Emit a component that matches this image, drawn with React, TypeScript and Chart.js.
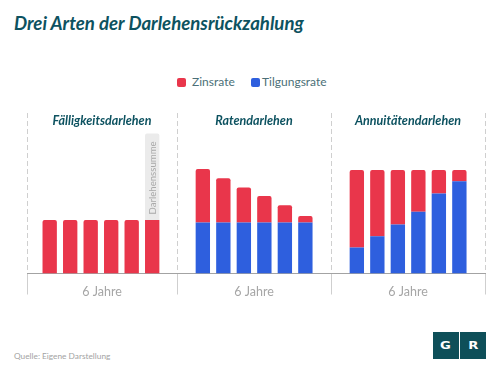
import React, { useEffect, useRef } from "react";
import { Chart, registerables } from "chart.js";

Chart.register(...registerables);

// ---- data ----
const years = [1, 2, 3, 4, 5, 6];
const panelTitles = ["Fälligkeitsdarlehen", "Ratendarlehen", "Annuitätendarlehen"];
const axisLabel = "6 Jahre";
const seriesNames = ["Zinsrate", "Tilgungsrate"];
const annotationLabel = "Darlehenssumme";

const faelligZins = [10.5, 10.5, 10.5, 10.5, 10.5, 10.5];
const faelligSumme = [null, null, null, null, null, 17];
const ratenTilgung = [10, 10, 10, 10, 10, 10];
const ratenZins = [10.5, 8.7, 6.9, 5.2, 3.4, 1.3];
const annuitaetTilgung = [5.1, 7.3, 9.6, 12.1, 15.7, 18.1];
const annuitaetZins = [15.2, 13.0, 10.7, 8.2, 4.6, 2.2];

const RED = "#e9364b";
const BLUE = "#2e5fde";
const GREY_BAR = "#ebebeb";
const TEAL = "#0d5260";
const FONT = "Lato, 'Open Sans', sans-serif";

type PanelDef = {
  title: string;
  left: number;
  width: number;
  min: number;
  max: number;
  lastLine: boolean;
  datasets: any[];
};

const panelTitlePlugin = {
  id: "panelTitle",
  afterDraw(chart: any, _args: any, opts: any) {
    const { ctx, chartArea } = chart;
    ctx.save();
    ctx.font = `italic bold 12.5px ${FONT}`;
    ctx.fillStyle = TEAL;
    ctx.textAlign = "center";
    ctx.textBaseline = "middle";
    ctx.fillText(opts.text, (chartArea.left + chartArea.right) / 2, chartArea.top + 8);
    ctx.restore();
  },
};

const annotationPlugin = {
  id: "barAnnotation",
  afterDatasetsDraw(chart: any, _args: any, opts: any) {
    if (opts.datasetIndex == null) return;
    const meta = chart.getDatasetMeta(opts.datasetIndex);
    const { ctx } = chart;
    meta.data.forEach((el: any, i: number) => {
      const v = chart.data.datasets[opts.datasetIndex].data[i];
      if (v == null) return;
      ctx.save();
      ctx.translate(el.x, el.y + 8);
      ctx.rotate(-Math.PI / 2);
      ctx.font = `9.6px ${FONT}`;
      ctx.fillStyle = "#a9a9a9";
      ctx.textAlign = "right";
      ctx.textBaseline = "middle";
      ctx.fillText(opts.text, 0, 0.5);
      ctx.restore();
    });
  },
};

function Panel({ def }: { def: PanelDef }) {
  const ref = useRef<HTMLCanvasElement | null>(null);
  useEffect(() => {
    if (!ref.current) return;
    const annIndex = def.datasets.findIndex((d) => d.isAnnotation);
    const chart = new Chart(ref.current, {
      type: "bar",
      data: { labels: years, datasets: def.datasets },
      plugins: [panelTitlePlugin, annotationPlugin],
      options: {
        animation: false,
        responsive: false,
        devicePixelRatio: 1,
        layout: { padding: { left: 0, right: def.lastLine ? 1 : 0, top: 0, bottom: 0 } },
        datasets: { bar: { categoryPercentage: 1, barPercentage: 0.7, borderRadius: 2 } },
        plugins: {
          legend: { display: false },
          tooltip: { enabled: false },
          panelTitle: { text: def.title },
          barAnnotation: { datasetIndex: annIndex >= 0 ? annIndex : null, text: annotationLabel },
        } as any,
        scales: {
          x: {
            type: "linear",
            stacked: true,
            min: def.min,
            max: def.max,
            offset: false,
            afterBuildTicks: (axis: any) => {
              axis.ticks = def.lastLine
                ? [{ value: axis.min }, { value: axis.max }]
                : [{ value: axis.min }];
            },
            grid: { offset: false, color: "#cfcfcf", lineWidth: 1, tickLength: 21, drawOnChartArea: true },
            border: { display: true, color: "#a3a3a3", width: 1, dash: [5, 3] },
            ticks: { display: false },
            title: {
              display: true,
              text: axisLabel,
              color: "#a6a6a6",
              font: { family: FONT, size: 12.5, lineHeight: 1.2 },
              padding: { top: -10.5, bottom: 0 },
            },
          } as any,
          y: { display: false, stacked: true, min: 0, max: 31.5 },
        },
      },
    });
    return () => chart.destroy();
  }, [def]);
  return (
    <canvas
      ref={ref}
      width={def.width + (def.lastLine ? 1 : 0)}
      height={186}
      style={{ position: "absolute", left: def.left, top: 113 }}
    />
  );
}

const panels: PanelDef[] = [
  {
    title: panelTitles[0],
    left: 27,
    width: 150,
    min: -0.107,
    max: 7.21,
    lastLine: false,
    datasets: [
      { label: seriesNames[0], data: faelligZins, backgroundColor: RED },
      { label: annotationLabel, data: faelligSumme, backgroundColor: GREY_BAR, isAnnotation: true },
    ],
  },
  {
    title: panelTitles[1],
    left: 177,
    width: 154,
    min: -0.26,
    max: 7.25,
    lastLine: false,
    datasets: [
      { label: seriesNames[1], data: ratenTilgung, backgroundColor: BLUE },
      { label: seriesNames[0], data: ratenZins, backgroundColor: RED },
    ],
  },
  {
    title: panelTitles[2],
    left: 331,
    width: 154,
    min: -0.26,
    max: 7.25,
    lastLine: true,
    datasets: [
      { label: seriesNames[1], data: annuitaetTilgung, backgroundColor: BLUE },
      { label: seriesNames[0], data: annuitaetZins, backgroundColor: RED },
    ],
  },
];

const logoBox: React.CSSProperties = {
  position: "absolute",
  top: 332,
  width: 26,
  height: 27,
  background: "#0e4f59",
  color: "#fff",
  fontFamily: "'DejaVu Sans', sans-serif",
  fontWeight: 700,
  fontSize: 11,
  lineHeight: "27px",
  textAlign: "center",
};

const logoLetter: React.CSSProperties = {
  display: "inline-block",
  transform: "scaleX(1.2)",
};

export default function App() {
  return (
    <div
      style={{
        position: "fixed",
        left: 0,
        top: 0,
        width: 500,
        height: 374,
        background: "#fff",
        overflow: "hidden",
        fontFamily: FONT,
      }}
    >
      <div
        style={{
          position: "absolute",
          left: 14,
          top: 14,
          fontSize: 18.6,
          lineHeight: "18px",
          fontWeight: 700,
          fontStyle: "italic",
          color: TEAL,
          whiteSpace: "nowrap",
        }}
      >
        Drei Arten der Darlehensrückzahlung
      </div>

      {/* legend */}
      <div style={{ position: "absolute", left: 177, top: 78, width: 9, height: 9, borderRadius: 2, background: RED }} />
      <div style={{ position: "absolute", left: 192, top: 75, fontSize: 12, lineHeight: "14px", color: "#4b6f77" }}>
        {seriesNames[0]}
      </div>
      <div style={{ position: "absolute", left: 251, top: 78, width: 9, height: 9, borderRadius: 2, background: BLUE }} />
      <div style={{ position: "absolute", left: 262, top: 75, fontSize: 12, lineHeight: "14px", color: "#4b6f77" }}>
        {seriesNames[1]}
      </div>

      {panels.map((p, i) => (
        <Panel key={i} def={p} />
      ))}

      <div
        style={{
          position: "absolute",
          left: 14,
          top: 351,
          fontSize: 8.3,
          lineHeight: "10px",
          color: "#a3a3a3",
          whiteSpace: "nowrap",
        }}
      >
        Quelle: Eigene Darstellung
      </div>

      {/* logo */}
      <div style={{ ...logoBox, left: 433 }}>
        <span style={logoLetter}>G</span>
      </div>
      <div style={{ ...logoBox, left: 460 }}>
        <span style={logoLetter}>R</span>
      </div>
    </div>
  );
}
